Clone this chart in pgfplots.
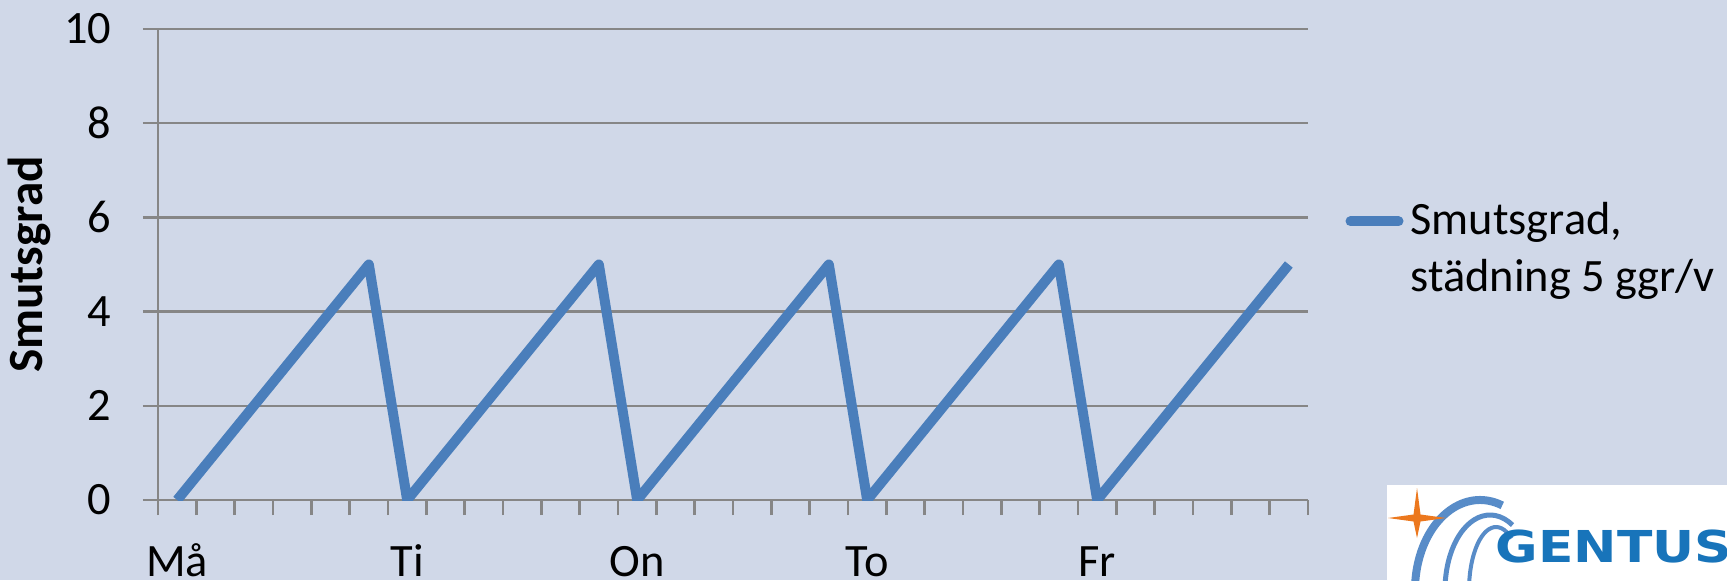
\documentclass[border=0pt]{standalone}
\usepackage{fontspec}
\setmainfont{Carlito}
\newfontfamily\logofont[FakeStretch=1.18]{DejaVu Sans}
\usepackage{pgfplots}
\pgfplotsset{compat=1.18}
\definecolor{bg}{RGB}{208,216,232}
\definecolor{ln}{RGB}{74,126,187}
\definecolor{gr}{RGB}{134,134,134}
\definecolor{gb}{RGB}{24,116,186}
\definecolor{go}{RGB}{236,120,30}
\definecolor{ga}{RGB}{88,140,200}
\begin{document}
\fontsize{13.2}{16}\selectfont
\begin{tikzpicture}
\fill[bg] (0,0) rectangle (172.7mm,58mm);
\useasboundingbox (0,0) rectangle (172.7mm,58mm);
\begin{axis}[
  at={(15.8mm,8mm)}, anchor=south west,
  scale only axis, width=115mm, height=47.1mm,
  xmin=-0.5, xmax=29.5, ymin=0, ymax=10,
  axis lines*=left,
  axis line style={gr, line width=0.25mm},
  ytick={0,2,...,10},
  ymajorgrids, grid style={gr, line width=0.25mm},
  tick align=outside, major tick length=1.5mm,
  tick style={gr, line width=0.25mm},
  xtick={-0.5,0.5,...,29.5}, xticklabels={},
  extra x ticks={0,6,12,18,24},
  extra x tick labels={Må,Ti,On,To,Fr},
  extra x tick style={major tick length=0pt, tick style={draw=none}},
  /pgf/number format/assume math mode=true,
  ticklabel style={font=\fontsize{13.2}{16}\selectfont, inner sep=0pt},
  yticklabel style={anchor=east, xshift=-4.6mm+1.5mm},
  xticklabel style={anchor=base, yshift=-7.6mm},
  every axis y label/.style={at={(axis description cs:-0.1122,0.5)}, rotate=90, anchor=center},
  ylabel={\bfseries Smutsgrad},
  label style={font=\fontsize{14}{16}\selectfont\bfseries},
  legend style={at={(axis description cs:1.032,0.53)}, anchor=west, draw=none, fill=none,
    font=\fontsize{13.2}{16}\selectfont, cells={align=left}, inner sep=0pt},
  legend image code/.code={\draw[line width=1mm, line cap=round, ln] (0mm,2.9mm) -- (4.8mm,2.9mm);},
]
\addplot[ln, line width=1mm, line join=round] coordinates {
(0,0)(1,1)(2,2)(3,3)(4,4)(5,5)
(6,0)(7,1)(8,2)(9,3)(10,4)(11,5)
(12,0)(13,1)(14,2)(15,3)(16,4)(17,5)
(18,0)(19,1)(20,2)(21,3)(22,4)(23,5)
(24,0)(25,1)(26,2)(27,3)(28,4)(29,5)
};
\addlegendentry{Smutsgrad,\\städning 5 ggr/v}
\end{axis}
% logo
\begin{scope}
\clip (0,0) rectangle (172.7mm,58mm);
\fill[white] (138.7mm,0) rectangle (172.7mm,9.5mm);
\begin{scope}
\clip (138.7mm,0) rectangle (172.7mm,9.5mm);
\draw[ga, line width=0.8mm] ([shift={(70:6.5mm and 9mm)}]148mm,-1mm) arc [start angle=70, end angle=200, x radius=6.5mm, y radius=9mm];
\draw[ga, line width=0.5mm] ([shift={(60:4.5mm and 7.5mm)}]149mm,-1mm) arc [start angle=60, end angle=200, x radius=4.5mm, y radius=7.5mm];
\draw[ga, line width=0.4mm] ([shift={(55:2.7mm and 6.3mm)}]149.6mm,-1mm) arc [start angle=55, end angle=200, x radius=2.7mm, y radius=6.3mm];
\fill[go] (141.7mm,9.2mm) -- (142.05mm,6.55mm) -- (144.6mm,6.2mm) -- (142.05mm,5.85mm) -- (141.7mm,4.2mm) -- (141.35mm,5.85mm) -- (138.8mm,6.2mm) -- (141.35mm,6.55mm) -- cycle;
\node[anchor=base west, inner sep=0pt, text=gb, font=\logofont\bfseries\fontsize{12.5}{14}\selectfont] at (149.5mm,1.8mm) {GENTUS};
\end{scope}
\end{scope}
\end{tikzpicture}
\end{document}
